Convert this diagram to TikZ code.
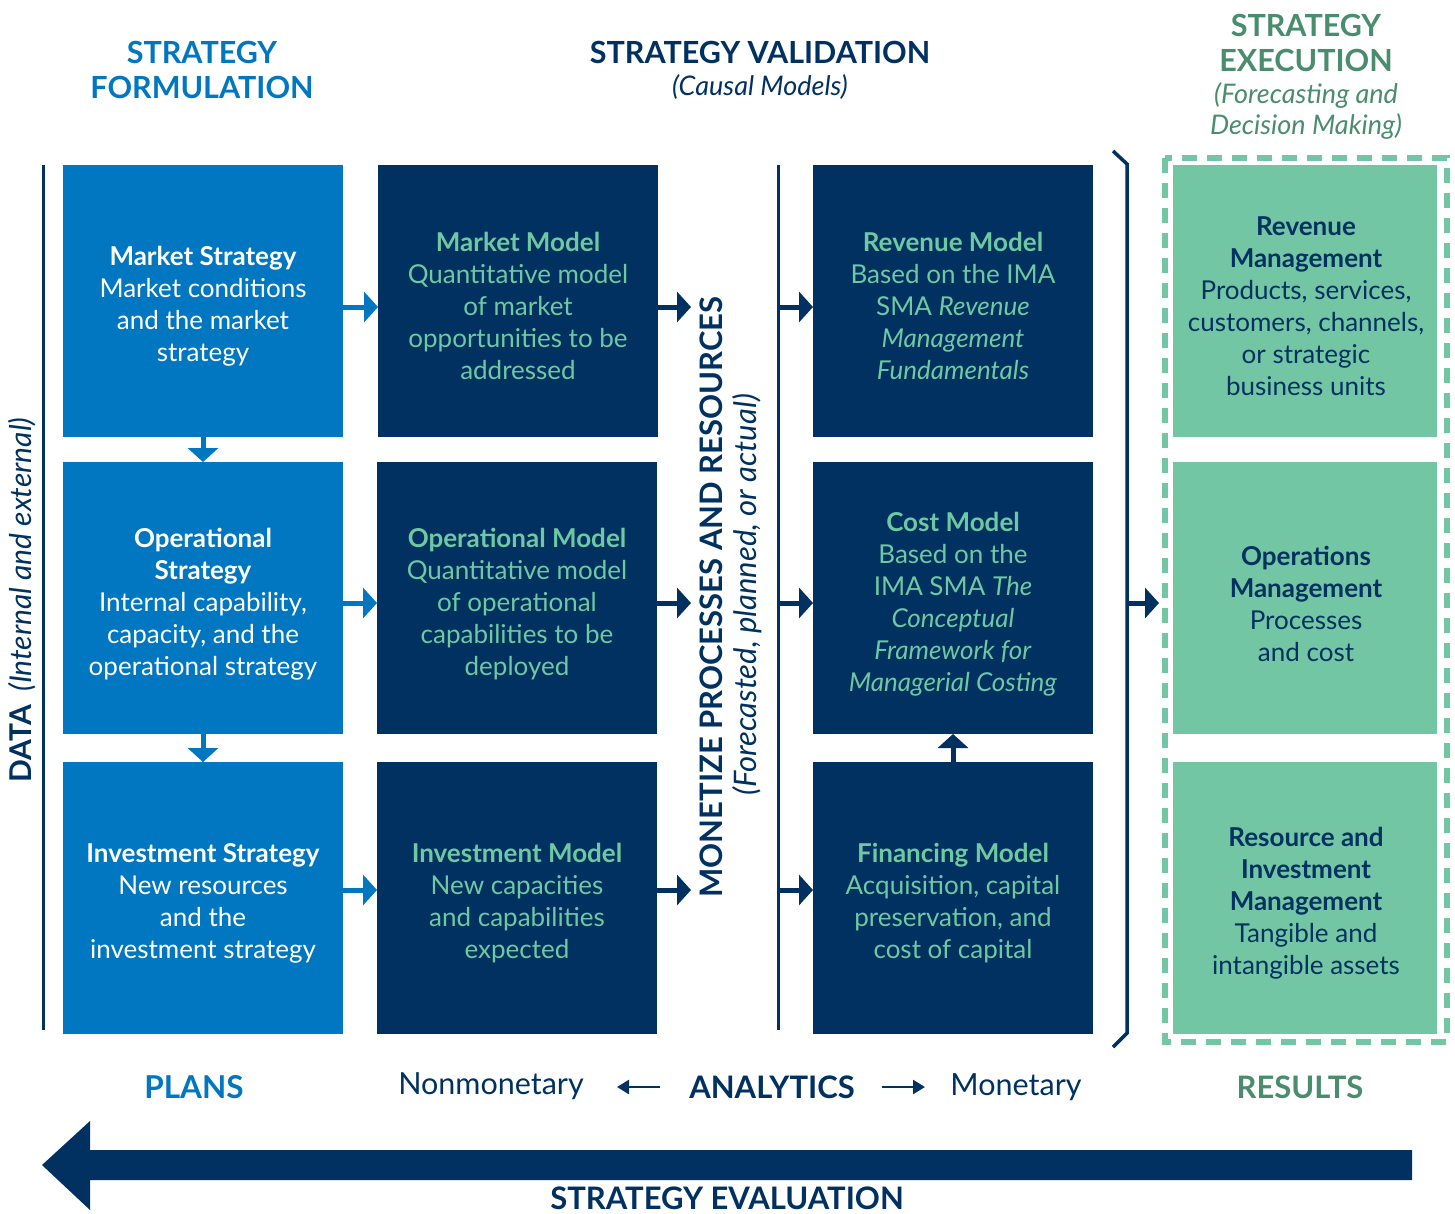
\documentclass[tikz,border=0pt]{standalone}
\usepackage{fontspec}
\setmainfont{Lato}
\usetikzlibrary{arrows.meta}
\definecolor{bblue}{RGB}{0,119,192}
\definecolor{navy}{RGB}{0,49,96}
\definecolor{gfill}{RGB}{114,198,164}
\definecolor{gtext}{RGB}{110,200,162}
\definecolor{gtitle}{RGB}{74,140,110}
\newcommand{\bodyfont}{\fontsize{26}{32}\selectfont}
\newcommand{\headfont}{\fontsize{30.5}{35}\selectfont\bfseries}
\newcommand{\subfont}{\fontsize{27}{31}\selectfont\itshape}
\tikzset{
  box/.style={minimum width=280pt,minimum height=272pt,inner sep=0pt,outer sep=0pt},
  bluebox/.style={box,fill=bblue},
  navybox/.style={box,fill=navy},
  greenbox/.style={box,fill=gfill,minimum width=264pt},
  txt/.style={align=center,font=\bodyfont,inner sep=0pt},
  harr/.style={line width=5pt,-{Triangle[width=30pt,length=14pt]}},
  smallarr/.style={line width=2.5pt,-{Triangle[width=14pt,length=12pt]}},
}
\begin{document}
\begin{tikzpicture}[x=1pt,y=-1pt]
\useasboundingbox (0,0) rectangle (1455,1213);
% titles
\node[txt,font=\headfont,text=bblue] (t1) at (202,70) {STRATEGY\\FORMULATION};
\node[txt,font=\headfont,text=navy] (t2) at (760,52) {STRATEGY VALIDATION};
\node[txt,font=\subfont,text=navy] (t2b) at (760,87) {(Causal Models)};
\node[txt,font=\headfont,text=gtitle] (t3) at (1306,43) {STRATEGY\\EXECUTION};
\node[txt,font=\subfont,text=gtitle] (t3b) at (1306,111) {(Forecasting and\\Decision Making)};
% left line
\coordinate (l1) at (43,165); \coordinate (l2) at (43,1030);
\draw[navy,line width=3pt] (l1) -- (l2);
\node[rotate=90,txt,text=navy] (data) at (22,600) {{\fontsize{30}{32}\selectfont\bfseries DATA}\ \ {\fontsize{30}{32}\selectfont\itshape(Internal and external)}};
% column 1
\node[bluebox,anchor=north west] (b11) at (63,165) {};
\node[bluebox,anchor=north west] (b12) at (63,462) {};
\node[bluebox,anchor=north west] (b13) at (63,762) {};
\node[txt,text=white] at (203,306) {\textbf{Market Strategy}\\Market conditions\\and the market\\strategy};
\node[txt,text=white] at (203,604) {\textbf{Operational}\\\textbf{Strategy}\\Internal capability,\\capacity, and the\\operational strategy};
\node[txt,text=white] at (203,903) {\textbf{Investment Strategy}\\New resources\\and the\\investment strategy};
% column 2
\node[navybox,anchor=north west] (b21) at (378,165) {};
\node[navybox,anchor=north west] (b22) at (377,462) {};
\node[navybox,anchor=north west] (b23) at (377,762) {};
\node[txt,text=gtext] at (518,306) {\textbf{Market Model}\\Quantitative model\\of market\\opportunities to be\\addressed};
\node[txt,text=gtext] at (517,604) {\textbf{Operational Model}\\Quantitative model\\of operational\\capabilities to be\\deployed};
\node[txt,text=gtext] at (517,903) {\textbf{Investment Model}\\New capacities\\and capabilities\\expected};
% middle vertical texts
\node[rotate=90,txt,font=\fontsize{31}{32}\selectfont\bfseries,text=navy] (mon) at (711,597) {MONETIZE PROCESSES AND RESOURCES};
\node[rotate=90,txt,font=\fontsize{31}{32}\selectfont\itshape,text=navy] (fore) at (747,595) {(Forecasted, planned, or actual)};
\coordinate (m1) at (778,165); \coordinate (m2) at (778,1030);
\draw[navy,line width=3pt] (m1) -- (m2);
% column 3
\node[navybox,anchor=north west] (b31) at (813,165) {};
\node[navybox,anchor=north west] (b32) at (813,462) {};
\node[navybox,anchor=north west] (b33) at (813,762) {};
\node[txt,text=gtext] at (953,306) {\textbf{Revenue Model}\\Based on the IMA\\SMA \textit{Revenue}\\\textit{Management}\\\textit{Fundamentals}};
\node[txt,text=gtext] at (953,604) {\textbf{Cost Model}\\Based on the\\IMA SMA \textit{The}\\\textit{Conceptual}\\\textit{Framework for}\\\textit{Managerial Costing}};
\node[txt,text=gtext] at (953,903) {\textbf{Financing Model}\\Acquisition, capital\\preservation, and\\cost of capital};
% bracket
\coordinate (k1) at (1113,151); \coordinate (k2) at (1127,164);
\coordinate (k3) at (1127,1033); \coordinate (k4) at (1113,1047);
\draw[navy,line width=3.5pt] (k1) -- (k2) -- (k3) -- (k4);
% dashed frame
\draw[gfill,line width=6pt,dash pattern=on 15pt off 10pt] (1165,158) rectangle (1447,1042);
% column 4
\node[greenbox,anchor=north west] (b41) at (1173,165) {};
\node[greenbox,anchor=north west] (b42) at (1173,462) {};
\node[greenbox,anchor=north west] (b43) at (1173,762) {};
\node[txt,text=navy] at (1306,306) {\textbf{Revenue}\\\textbf{Management}\\Products, services,\\customers, channels,\\or strategic\\business units};
\node[txt,text=navy] at (1306,604) {\textbf{Operations}\\\textbf{Management}\\Processes\\and cost};
\node[txt,text=navy] at (1306,903) {\textbf{Resource and}\\\textbf{Investment}\\\textbf{Management}\\Tangible and\\intangible assets};
% arrows col1 -> col2
\foreach \r/\y in {1/307,2/603,3/890}{
  \draw[bblue,harr] (b1\r.east |- 0,\y) -- (b2\r.west |- 0,\y);
}
% col2 -> text, line -> col3
\foreach \r/\y in {1/307,2/603,3/890}{
  \coordinate (e\r) at (691,\y);
  \draw[navy,harr] (b2\r.east |- 0,\y) -- (e\r);
  \draw[navy,harr] (m1 |- 0,\y) -- (b3\r.west |- 0,\y);
}
% down arrows col1
\draw[bblue,harr] (b11.south) -- (b12.north);
\draw[bblue,harr] (b12.south) -- (b13.north);
% up arrow col3
\draw[navy,harr] (b33.north) -- (b32.south);
% bracket to results
\coordinate (r0) at (1128,603); \coordinate (r1) at (1159,603);
\draw[navy,harr] (r0) -- (r1);
% bottom labels
\node[txt,text=bblue,font=\fontsize{31.5}{32}\selectfont\bfseries] (plans) at (194,1087) {PLANS};
\node[txt,text=navy,font=\fontsize{30.5}{32}\selectfont] (nonm) at (491,1086) {Nonmonetary};
\node[txt,text=navy,font=\fontsize{31}{32}\selectfont\bfseries] (anal) at (772,1087) {ANALYTICS};
\node[txt,text=navy,font=\fontsize{30.5}{32}\selectfont] (monet) at (1016,1087) {Monetary};
\node[txt,text=gtitle,font=\fontsize{31}{32}\selectfont\bfseries] (res) at (1300,1087) {RESULTS};
\coordinate (a1) at (660,1087); \coordinate (a2) at (617,1087);
\coordinate (a3) at (882,1087); \coordinate (a4) at (925,1087);
\draw[navy,smallarr] (a1) -- (a2);
\draw[navy,smallarr] (a3) -- (a4);
% big evaluation arrow
\fill[navy] (1412,1150) -- (90,1150) -- (90,1121) -- (42,1165) -- (90,1210) -- (90,1180) -- (1412,1180) -- cycle;
\node[txt,text=navy,font=\fontsize{31}{32}\selectfont\bfseries] (eval) at (727,1198) {STRATEGY EVALUATION};
\end{tikzpicture}
\end{document}
